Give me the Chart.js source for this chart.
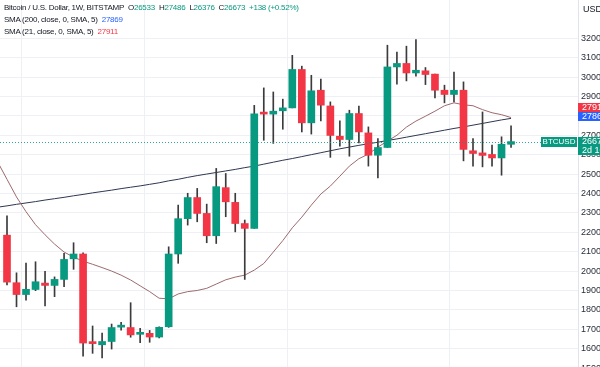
<!DOCTYPE html>
<html><head><meta charset="utf-8">
<script src="https://cdn.jsdelivr.net/npm/chart.js@4.4.0/dist/chart.umd.min.js"></script>
<style>
html,body{margin:0;padding:0;background:#fff;overflow:hidden;width:600px;height:367px;}
#wrap{position:relative;width:625px;height:380px;}
#legend{position:absolute;left:4px;top:2px;font:8px "Liberation Sans",Arial,sans-serif;letter-spacing:-0.25px;color:#131722;line-height:12px;white-space:nowrap;}
.g{color:#089981}.b{color:#2962ff}.r{color:#f23645}
</style></head><body>
<div id="wrap"><canvas id="c" width="625" height="380"></canvas>
<div id="legend">
<div><span id="title">Bitcoin / U.S. Dollar, 1W, BITSTAMP</span>&nbsp; O<span class="g" id="vo"></span>&nbsp; H<span class="g" id="vh"></span>&nbsp; L<span class="g" id="vl"></span>&nbsp; C<span class="g" id="vc"></span>&nbsp; <span class="g" id="vchg"></span></div>
<div><span id="s200name"></span>&nbsp; <span class="b" id="v200"></span></div>
<div><span id="s21name"></span>&nbsp; <span class="r" id="v21"></span></div>
</div></div>
<script>
// ---- data (weekly candles, BTC/USD Bitstamp); index 0 is a lead week used only by the SMA lines
const weeks = ['2022-09-05','2022-09-12','2022-09-19','2022-09-26','2022-10-03','2022-10-10','2022-10-17','2022-10-24','2022-10-31','2022-11-07','2022-11-14','2022-11-21','2022-11-28','2022-12-05','2022-12-12','2022-12-19','2022-12-26','2023-01-02','2023-01-09','2023-01-16','2023-01-23','2023-01-30','2023-02-06','2023-02-13','2023-02-20','2023-02-27','2023-03-06','2023-03-13','2023-03-20','2023-03-27','2023-04-03','2023-04-10','2023-04-17','2023-04-24','2023-05-01','2023-05-08','2023-05-15','2023-05-22','2023-05-29','2023-06-05','2023-06-12','2023-06-19','2023-06-26','2023-07-03','2023-07-10','2023-07-17','2023-07-24','2023-07-31','2023-08-07','2023-08-14','2023-08-21','2023-08-28','2023-09-04','2023-09-11','2023-09-18'];
const open  = [null,21850,19400,18790,19050,19380,19260,19570,20630,20880,16300,16200,16370,17110,17090,16740,16790,16600,17130,20880,22700,23790,22970,21820,24300,23540,22450,22200,28160,28090,28260,28410,30390,27640,29320,28510,26950,26780,28120,27120,25970,26370,30520,30700,30210,30320,30150,29320,29100,29320,26200,26090,26010,25830,26533];
const high  = [null,22850,19910,20410,20480,19990,19700,20910,21460,20940,17170,16810,17270,17360,18370,17050,16940,17130,21250,23400,24010,24260,23450,25290,25030,24010,22630,28540,29440,29230,28860,31120,30560,30090,29890,28720,27740,28290,28500,27430,26830,31640,31290,31590,31930,30490,30150,29580,30260,29750,26830,28200,26490,26920,27486];
const low   = [null,19280,18160,18500,18990,18200,18680,19190,20090,15620,15760,15520,15980,16960,16590,16310,16330,16560,17100,20400,22370,22540,21460,21420,22800,22020,19570,22200,26740,26580,27310,28410,27170,27060,27740,25860,26440,25920,26610,25410,24800,26370,29630,29800,30040,29610,28920,28670,28720,25680,25410,25370,25410,24940,26376];
const close = [null,19430,18790,19060,19450,19260,19570,20600,20880,16290,16260,16370,17090,17120,16710,16820,16600,17100,20880,22700,23790,22970,21820,24350,23570,22450,22200,28110,28090,28240,28410,30390,27640,29290,28550,26990,26780,28120,27170,25970,26370,30520,30700,30210,30350,30130,29320,29100,29320,26270,26060,25960,25830,26535,26673];
const sma200 = [23290,23360,23440,23510,23580,23660,23730,23800,23880,23950,24030,24100,24170,24250,24320,24390,24470,24550,24650,24730,24830,24920,25000,25080,25160,25240,25330,25410,25510,25610,25710,25800,25900,26000,26100,26200,26300,26390,26480,26560,26640,26730,26810,26900,26990,27080,27170,27260,27350,27430,27520,27610,27700,27790,27869];
const sma21  = [25640,24730,23820,23060,22390,21870,21390,20980,20720,20510,20350,20180,20000,19790,19540,19240,18940,18600,18570,18820,18940,19000,19110,19330,19550,19690,19790,20050,20390,20980,21570,22230,22780,23400,23970,24380,24890,25410,25790,26030,26390,26700,27000,27420,27730,27980,28240,28520,28670,28570,28520,28320,28160,28060,27911];
const priceTicks = [15000,16000,17000,18000,19000,20000,21000,22000,23000,24000,25000,26000,27000,28000,29000,30000,31000,32000];
const timeGridWeeks = [9,22,39,56];
const titleText = 'Bitcoin / U.S. Dollar, 1W, BITSTAMP';
const sma200Name = 'SMA (200, close, 0, SMA, 5)';
const sma21Name = 'SMA (21, close, 0, SMA, 5)';
const symbol = 'BTCUSD';
const countdown = '2d 10h';
const currency = 'USD';

const UP = '#089981', DOWN = '#f23645', WICK = '#3b3b3b';
const FONT = '"Liberation Sans", Arial, sans-serif';
const last = close.length - 1;
const chg = close[last] - close[last-1];
document.getElementById('title').textContent = titleText;
document.getElementById('vo').textContent = open[last];
document.getElementById('vh').textContent = high[last];
document.getElementById('vl').textContent = low[last];
document.getElementById('vc').textContent = close[last];
document.getElementById('vchg').textContent = (chg>=0?'+':'') + chg + ' (' + (chg>=0?'+':'') + (chg/close[last-1]*100).toFixed(2) + '%)';
document.getElementById('s200name').textContent = sma200Name;
document.getElementById('s21name').textContent = sma21Name;
document.getElementById('v200').textContent = sma200[last];
document.getElementById('v21').textContent = sma21[last];

const idx = weeks.map((w,i)=>i).filter(i=>open[i]!==null);
const bodies = idx.map(i=>({x:i, y:[open[i], close[i]]}));
const wicks  = idx.map(i=>({x:i, y:[low[i], high[i]]}));
const bodyColors = idx.map(i=> close[i]>=open[i] ? UP : DOWN);

const overlay = {
  id:'overlay',
  afterDatasetsDraw(chart){
    const {ctx, chartArea, scales:{y}} = chart;
    const py = Math.round(y.getPixelForValue(close[last])) + 0.5;
    ctx.save();
    ctx.strokeStyle = 'rgba(8,153,129,0.85)'; ctx.lineWidth = 1; ctx.setLineDash([1,2]);
    ctx.beginPath(); ctx.moveTo(chartArea.left, py); ctx.lineTo(chartArea.right, py); ctx.stroke();
    ctx.restore();
  },
  afterDraw(chart){
    const {ctx, chartArea, scales:{y}} = chart;
    const R = chartArea.right;
    ctx.save();
    ctx.fillStyle = '#fff'; ctx.fillRect(R+1, 0, 60, 22);
    ctx.font = '9px ' + FONT; ctx.fillStyle = '#131722';
    ctx.textBaseline = 'middle'; ctx.textAlign = 'left';
    ctx.fillText(currency, R+5, 10);
    ctx.strokeStyle = '#e0e3eb'; ctx.beginPath(); ctx.moveTo(R+0.5, 0); ctx.lineTo(R+0.5, 380); ctx.stroke();
    const pb = y.getPixelForValue(sma200[last]);
    const blueTop = Math.round(pb) - 6;
    const redTop = blueTop - 9;
    ctx.font = '9px ' + FONT;
    ctx.fillStyle = DOWN; ctx.fillRect(R, redTop, 60, 9);
    ctx.fillStyle = '#2962ff'; ctx.fillRect(R, blueTop, 60, 9);
    ctx.fillStyle = '#fff';
    ctx.fillText(String(sma21[last]), R+4, redTop+5);
    ctx.fillText(String(sma200[last]), R+4, blueTop+5);
    const pc = Math.round(y.getPixelForValue(close[last]));
    ctx.fillStyle = UP; ctx.fillRect(R, pc-5, 60, 18);
    ctx.fillStyle = '#fff';
    ctx.fillText(String(close[last]), R+4, pc);
    ctx.fillText(countdown, R+4, pc+8.5);
    ctx.fillStyle = UP; ctx.fillRect(R-37, pc-5, 36, 10);
    ctx.fillStyle = '#fff'; ctx.font = '8px ' + FONT;
    ctx.textAlign = 'center';
    ctx.fillText(symbol, R-19, pc);
    ctx.restore();
  }
};

new Chart(document.getElementById('c'), {
  data: {
    datasets: [
      {type:'bar', label:'body', data:bodies, backgroundColor:bodyColors, barThickness:7, minBarLength:2, grouped:false, order:0, borderWidth:0},
      {type:'bar', label:'wick', data:wicks, backgroundColor:WICK, barThickness:1, grouped:false, order:1, borderWidth:0},
      {type:'line', label:sma21Name, data:sma21.map((v,i)=>({x:i,y:v})), borderColor:'#9c6a6c', borderWidth:1, pointRadius:0, tension:0, order:2},
      {type:'line', label:sma200Name, data:sma200.map((v,i)=>({x:i,y:v})), borderColor:'#2e3750', borderWidth:1, pointRadius:0, tension:0, order:2}
    ]
  },
  options: {
    responsive:false, animation:false, devicePixelRatio:1,
    layout:{padding:0},
    plugins:{legend:{display:false}, tooltip:{enabled:false}},
    scales:{
      x:{type:'linear', min:0.264, max:61.04, offset:false,
         afterBuildTicks:(s)=>{ s.ticks = timeGridWeeks.map(v=>({value:v})); },
         afterFit:(s)=>{ s.height = 0; s.paddingLeft = 0; s.paddingRight = 0; },
         ticks:{display:false}, grid:{color:'#eef0f5', drawTicks:false}, border:{display:false}},
      y:{position:'right', min:14386, max:33970,
         afterBuildTicks:(s)=>{ s.ticks = priceTicks.map(v=>({value:v})); },
         afterFit:(s)=>{ s.width = 47; s.paddingTop = 0; s.paddingBottom = 0; },
         ticks:{padding:3, color:'#2a2e39', font:{size:9, family:FONT}, callback:(v)=>String(v)},
         grid:{color:'#eef0f5', drawTicks:false}, border:{display:false}}
    }
  },
  plugins:[overlay]
});
</script>
</body></html>
